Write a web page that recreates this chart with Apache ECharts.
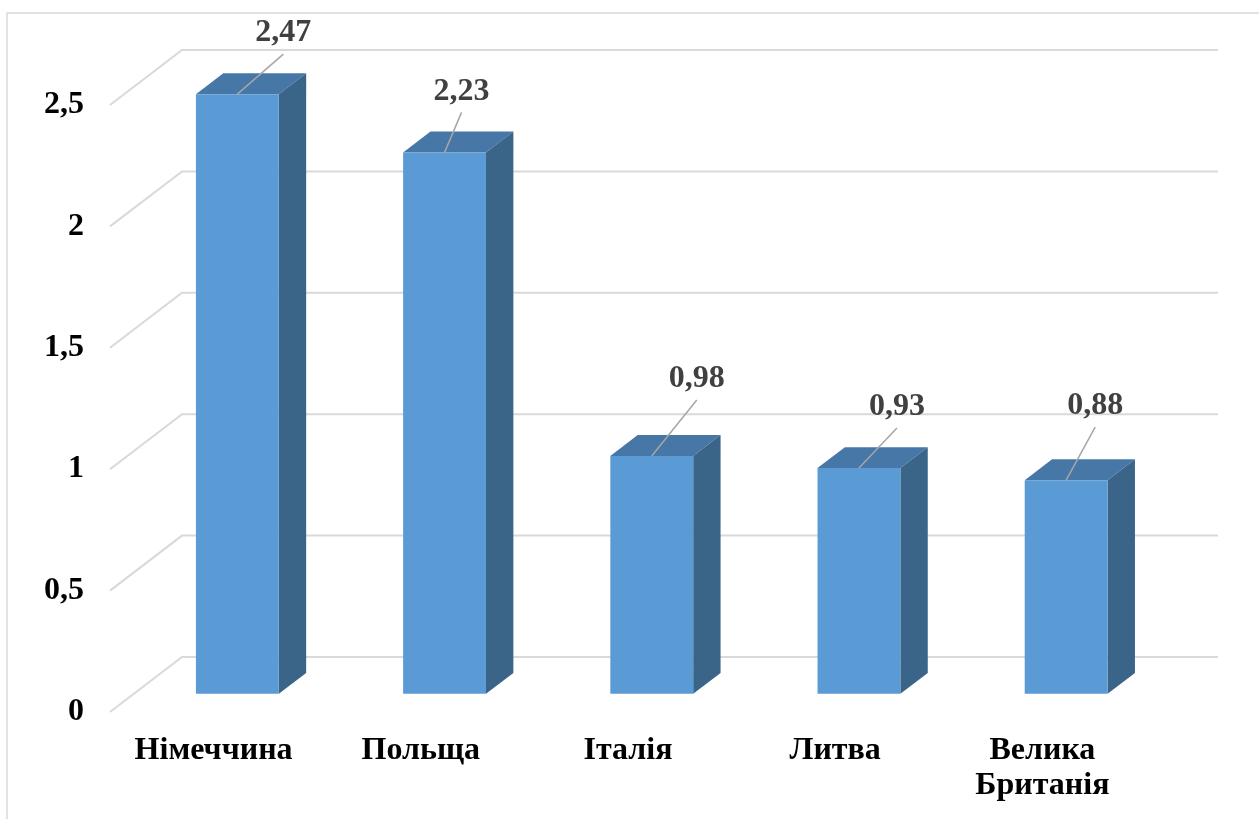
<!DOCTYPE html>
<html>
<head>
<meta charset="utf-8">
<style>
  html, body { margin: 0; padding: 0; background: #fff; }
  #chart { width: 1259px; height: 819px; }
</style>
<script src="https://cdn.jsdelivr.net/npm/echarts@6/dist/echarts.min.js"></script>
</head>
<body>
<div id="chart"></div>
<script>
// Countries and their values
const categories = ['Німеччина', 'Польща', 'Італія', 'Литва', 'Велика\nБританія'];
const values = [2.47, 2.23, 0.98, 0.93, 0.88];
const yTicks = [0, 0.5, 1, 1.5, 2, 2.5];

// 3D look: depth of the wall and where the column sits inside it
const DEPTH = [72, -55];
const BAR_NEAR = 0.33;
const BAR_FAR = 0.71;
const BAR_WIDTH = 0.4;
// callout placement relative to the top of each column (px)
const calloutShift = [[46, -61], [17, -61], [45, -77], [38, -61], [29, -74]];

const FONT = '"Liberation Serif", "Times New Roman", serif';
const fmt = v => String(v).replace('.', ',');

const chart = echarts.init(document.getElementById('chart'), null, { renderer: 'canvas' });

function renderGrid(params, api) {
  const v = api.value(1);
  const band = api.size([1, 0])[0];
  const first = api.coord([0, v]);
  const last = api.coord([categories.length - 1, v]);
  const x0 = first[0] - band / 2;
  const x1 = last[0] + band / 2;
  const y = first[1];
  return {
    type: 'polyline',
    shape: { points: [[x0, y], [x0 + DEPTH[0], y + DEPTH[1]], [x1 + DEPTH[0], y + DEPTH[1]]] },
    style: { stroke: '#D9D9D9', lineWidth: 2, fill: null }
  };
}

function barGeom(api) {
  const idx = api.value(0), v = api.value(1);
  const band = api.size([1, 0])[0];
  const base = api.coord([idx, 0]);
  const top = api.coord([idx, v]);
  const w = band * BAR_WIDTH;
  const nx = DEPTH[0] * BAR_NEAR, ny = DEPTH[1] * BAR_NEAR;
  const ddx = DEPTH[0] * (BAR_FAR - BAR_NEAR), ddy = DEPTH[1] * (BAR_FAR - BAR_NEAR);
  const x0 = top[0] + nx - w / 2;
  return { x0, x1: x0 + w, yTop: top[1] + ny, yBot: base[1] + ny, ddx, ddy, cx: top[0] + nx };
}

function renderBar(params, api) {
  const g = barGeom(api);
  return {
    type: 'group',
    children: [
      {
        type: 'polygon',
        shape: { points: [[g.x0, g.yTop], [g.x1, g.yTop], [g.x1 + g.ddx, g.yTop + g.ddy], [g.x0 + g.ddx, g.yTop + g.ddy]] },
        style: { fill: '#4677A7' }
      },
      {
        type: 'polygon',
        shape: { points: [[g.x1, g.yTop], [g.x1 + g.ddx, g.yTop + g.ddy], [g.x1 + g.ddx, g.yBot + g.ddy], [g.x1, g.yBot]] },
        style: { fill: '#3A6488' }
      },
      {
        type: 'rect',
        shape: { x: g.x0, y: g.yTop, width: g.x1 - g.x0, height: g.yBot - g.yTop },
        style: { fill: '#5B9BD5' }
      }
    ]
  };
}

function renderCallout(params, api) {
  const g = barGeom(api);
  const i = params.dataIndex;
  const s = calloutShift[i];
  const lx = g.cx + s[0], ly = g.yTop + s[1];
  return {
    type: 'group',
    children: [
      {
        type: 'line',
        shape: { x1: g.cx, y1: g.yTop, x2: lx, y2: ly + 21 },
        style: { stroke: '#A6A6A6', lineWidth: 1.5 }
      },
      {
        type: 'text',
        style: {
          text: fmt(api.value(1)), x: lx, y: ly,
          align: 'center', verticalAlign: 'middle',
          font: 'bold 32px ' + FONT, fill: '#404040'
        }
      }
    ]
  };
}

chart.setOption({
  animation: false,
  backgroundColor: '#fff',
  graphic: [{
    type: 'rect', silent: true, z: -10,
    shape: { x: 7, y: 13, width: 1400, height: 1000 },
    style: { fill: null, stroke: '#D9D9D9', lineWidth: 1.5 }
  }],
  grid: { left: 110, right: 113, top: 105, bottom: 107, containLabel: false },
  xAxis: {
    type: 'category',
    data: categories,
    axisLine: { show: false },
    axisTick: { show: false },
    axisLabel: {
      margin: 21,
      fontFamily: FONT, fontWeight: 'bold', fontSize: 32, lineHeight: 35, color: '#000'
    }
  },
  yAxis: {
    type: 'value',
    min: 0, max: 2.5, interval: 0.5,
    axisLine: { show: false },
    axisTick: { show: false },
    splitLine: { show: false },
    axisLabel: {
      margin: 26,
      fontFamily: FONT, fontWeight: 'bold', fontSize: 32, color: '#000',
      formatter: v => fmt(v)
    }
  },
  series: [
    { type: 'custom', renderItem: renderGrid, data: yTicks.map(v => [0, v]), z: 1, silent: true },
    { type: 'custom', renderItem: renderBar, data: values.map((v, i) => [i, v]), z: 2, silent: true },
    { type: 'custom', renderItem: renderCallout, data: values.map((v, i) => [i, v]), z: 3, silent: true }
  ]
});
</script>
</body>
</html>
